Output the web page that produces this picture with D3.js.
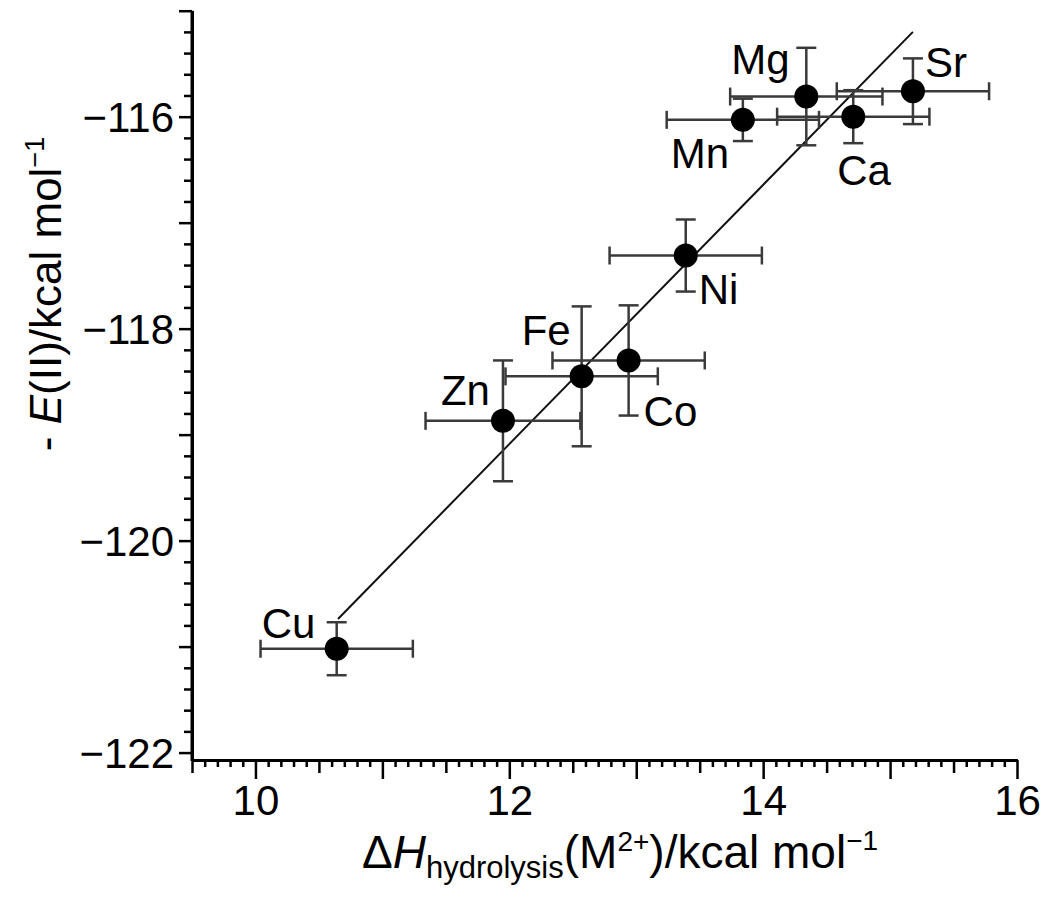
<!DOCTYPE html>
<html>
<head>
<meta charset="utf-8">
<script src="https://cdn.jsdelivr.net/npm/d3@7"></script>
<style>
  body { margin: 0; background: #fff; }
  text { font-family: "Liberation Sans", Arial, Helvetica, sans-serif; fill: #000; }
</style>
</head>
<body>
<div id="chart"></div>
<script>
// data
const elements = ["Cu", "Zn", "Fe", "Co", "Ni", "Mn", "Mg", "Ca", "Sr"];
const dH       = [10.64, 11.95, 12.57, 12.94, 13.39, 13.84, 14.34, 14.71, 15.18];
const energy   = [-121.02, -118.87, -118.45, -118.30, -117.31, -116.03, -115.81, -116.00, -115.76];
const dHerr    = [0.60, 0.61, 0.60, 0.60, 0.60, 0.60, 0.60, 0.60, 0.60];
const eErr     = [0.25, 0.57, 0.66, 0.52, 0.34, 0.20, 0.46, 0.25, 0.31];

// least squares line end points
const fitX = [10.65, 15.18];
const fitY = [-120.74, -115.20];

const xLabels = [10, 12, 14, 16];
const yLabels = [-116, -118, -120, -122];

// label placement relative to the dot (px)
const labelPos = {
    Cu: [-75, -11], Zn: [-62, -16], Fe: [-60, -31], Co: [15, 66], Ni: [13, 48],
    Mn: [-72, 48], Mg: [-75, -23], Ca: [-16, 68], Sr: [12, -14]
};

const width = 1050, height = 901;
const svg = d3.select("#chart").append("svg")
    .attr("width", width)
    .attr("height", height);

const x = d3.scaleLinear().domain([9.5, 16]).range([192, 1017]);
const y = d3.scaleLinear().domain([-122.07, -115]).range([760, 10.7]);

const fontSize = 42;

//////// axes
const xMinor = d3.range(95, 161, 1).map(d => d / 10).filter(d => Math.abs(d * 2 - Math.round(d * 2)) > 1e-6);
const xHalf  = d3.range(19, 33, 2).map(d => d / 2);
const xInt   = d3.range(10, 17, 1);

function drawX(values, size, labels) {
    const ax = d3.axisBottom(x).tickValues(values).tickSize(size).tickSizeOuter(0)
        .tickFormat(labels ? d => (xLabels.includes(d) ? d : "") : "");
    const g = svg.append("g").attr("transform", "translate(0,760)").call(ax);
    g.select(".domain").attr("stroke-width", 3);
    g.selectAll(".tick line").attr("stroke-width", 2.5);
    g.selectAll(".tick text")
        .attr("font-size", fontSize)
        .attr("font-family", "Liberation Sans, Arial, sans-serif")
        .attr("dy", "0.78em");
    return g;
}
drawX(xMinor, 7, false);
drawX(xHalf, 13, false);
drawX(xInt, 19, true);

const yMinor = d3.range(-1220, -1149, 2).map(d => d / 10).filter(d => Math.abs(d - Math.round(d)) > 1e-6);
const yInt   = d3.range(-122, -114, 1);

function drawY(values, size, labels) {
    const ax = d3.axisLeft(y).tickValues(values).tickSize(size).tickSizeOuter(0)
        .tickFormat(labels ? d => (yLabels.includes(d) ? d3.format("")(d).replace("-", "\u2212") : "") : "");
    const g = svg.append("g").attr("transform", "translate(192,0)").call(ax);
    g.select(".domain").attr("stroke-width", 3);
    g.selectAll(".tick line").attr("stroke-width", 2.5);
    g.selectAll(".tick text")
        .attr("font-size", fontSize)
        .attr("font-family", "Liberation Sans, Arial, sans-serif")
        .attr("x", -18)
        .attr("dy", "0.36em");
    return g;
}
drawY(yMinor, 8, false);
drawY(yInt, 13, true);

// extend y axis line down to x axis
svg.append("line")
    .attr("x1", 192).attr("x2", 192)
    .attr("y1", 10.7).attr("y2", 761)
    .attr("stroke", "#000").attr("stroke-width", 3);

//////// axis titles
const titleSize = 46;
const xt = svg.append("text")
    .attr("x", 620).attr("y", 868)
    .attr("text-anchor", "middle")
    .attr("font-size", titleSize);
xt.append("tspan").text("\u0394");
xt.append("tspan").attr("font-style", "italic").text("H");
xt.append("tspan").attr("font-size", 31).attr("dy", 10).text("hydrolysis");
xt.append("tspan").attr("dy", -10).text("(M");
xt.append("tspan").attr("font-size", 28).attr("dy", -17).text("2+");
xt.append("tspan").attr("dy", 17).text(")/kcal mol");
xt.append("tspan").attr("font-size", 28).attr("dy", -18).text("\u22121");

const yt = svg.append("text")
    .attr("transform", "translate(61,294) rotate(-90)")
    .attr("text-anchor", "middle")
    .attr("font-size", 44);
yt.append("tspan").text("- ");
yt.append("tspan").attr("font-style", "italic").text("E");
yt.append("tspan").text("(II)/kcal mol");
yt.append("tspan").attr("font-size", 27).attr("dy", -17).text("\u22121");

//////// points
const pts = elements.map((name, i) => ({
    name: name, x: dH[i], y: energy[i], ex: dHerr[i], ey: eErr[i]
}));

// fit line
svg.append("line")
    .attr("x1", x(fitX[0])).attr("y1", y(fitY[0]))
    .attr("x2", x(fitX[1])).attr("y2", y(fitY[1]))
    .attr("stroke", "#111").attr("stroke-width", 2);

const errColor = "#3a3a3a";
const eb = svg.append("g").attr("stroke", errColor).attr("stroke-width", 2.5).attr("fill", "none");

pts.forEach(d => {
    const cx = x(d.x), cy = y(d.y);
    // horizontal
    eb.append("line").attr("x1", x(d.x - d.ex)).attr("x2", x(d.x + d.ex)).attr("y1", cy).attr("y2", cy);
    eb.append("line").attr("x1", x(d.x - d.ex)).attr("x2", x(d.x - d.ex)).attr("y1", cy - 9).attr("y2", cy + 9);
    eb.append("line").attr("x1", x(d.x + d.ex)).attr("x2", x(d.x + d.ex)).attr("y1", cy - 9).attr("y2", cy + 9);
    // vertical
    eb.append("line").attr("x1", cx).attr("x2", cx).attr("y1", y(d.y - d.ey)).attr("y2", y(d.y + d.ey));
    eb.append("line").attr("x1", cx - 10).attr("x2", cx + 10).attr("y1", y(d.y - d.ey)).attr("y2", y(d.y - d.ey));
    eb.append("line").attr("x1", cx - 10).attr("x2", cx + 10).attr("y1", y(d.y + d.ey)).attr("y2", y(d.y + d.ey));
});

svg.selectAll("circle.pt")
    .data(pts)
    .enter().append("circle")
    .attr("class", "pt")
    .attr("cx", d => x(d.x))
    .attr("cy", d => y(d.y))
    .attr("r", 12)
    .attr("fill", "#000");

svg.selectAll("text.lbl")
    .data(pts)
    .enter().append("text")
    .attr("class", "lbl")
    .attr("x", d => x(d.x) + labelPos[d.name][0])
    .attr("y", d => y(d.y) + labelPos[d.name][1])
    .attr("font-size", fontSize)
    .text(d => d.name);
</script>
</body>
</html>
